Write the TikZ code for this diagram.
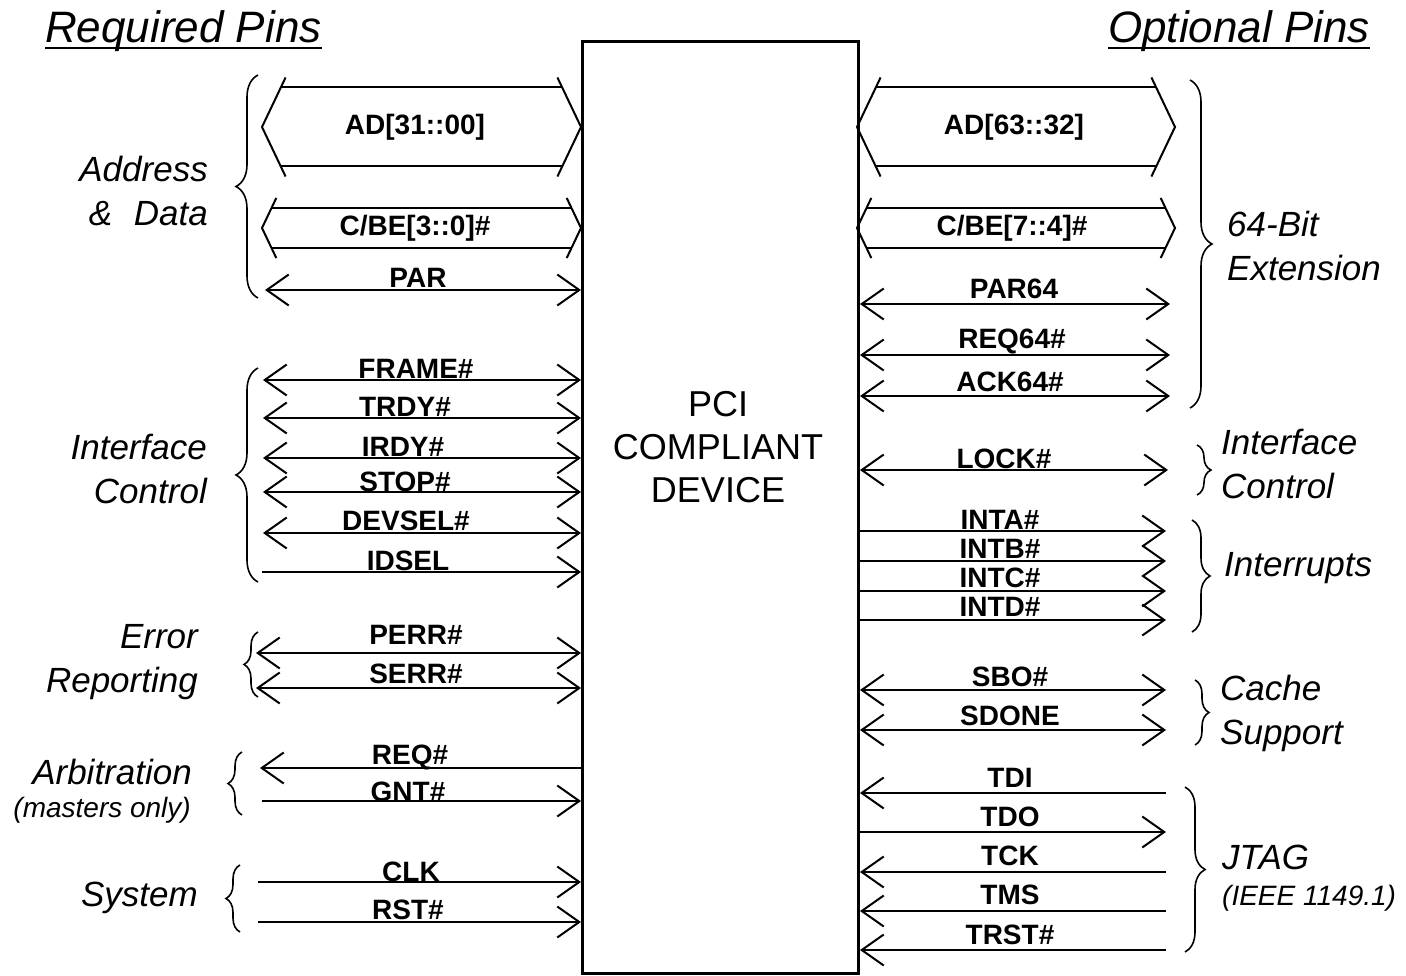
\documentclass[tikz,border=0pt]{standalone}
\usepackage{fontspec}
\setmainfont{Liberation Sans}
\usetikzlibrary{arrows.meta,decorations.pathreplacing,calc}
\newcommand\pcibusdraw[4]{% #1 left tip x, #2 right tip x, #3 centre y, #4 half height
  \pgfmathsetmacro\bdd{#4/2.1}%
  \pgfmathsetmacro\boo{(#4+10)/2.1}%
  \draw[busline] (#1+\boo,#3-#4-10) -- (#1,#3) -- (#1+\boo,#3+#4+10);
  \draw[busline] (#2-\boo,#3-#4-10) -- (#2,#3) -- (#2-\boo,#3+#4+10);
  \draw[busline] (#1+\bdd,#3-#4) -- (#2-\bdd,#3-#4);
  \draw[busline] (#1+\bdd,#3+#4) -- (#2-\bdd,#3+#4);
}
\begin{document}
\begin{tikzpicture}[x=1pt,y=-1pt,
  >={Straight Barb[length=22pt,width=31pt]},
  pin/.style={line width=2pt},
  busline/.style={line width=2pt},
  lab/.style={font=\fontsize{28}{30}\selectfont\bfseries, inner sep=0pt},
  grpL/.style={font=\fontsize{35}{44}\selectfont\itshape, align=right, inner sep=0pt, anchor=east},
  grpR/.style={font=\fontsize{35}{44}\selectfont\itshape, align=left, inner sep=0pt, anchor=west},
  small/.style={font=\fontsize{28}{30}\selectfont\itshape, inner sep=0pt},
  brc/.style={decorate, decoration={brace, amplitude=#1}, line width=1.6pt},
  title/.style={font=\fontsize{44}{44}\selectfont\itshape, inner sep=0pt, anchor=base west}
]
\fill[white] (0,0) rectangle (1406,976);

% device box
\node[draw, line width=3pt, minimum width=276pt, minimum height=932pt, anchor=north west, inner sep=0pt] (dev) at (581,40) {};
\node[font=\fontsize{36}{43}\selectfont, align=center, inner sep=0pt] (devtxt) at (718,447) {PCI\\COMPLIANT\\DEVICE};

% titles
\node[title] (reqt) at (45,43) {Required Pins};
\draw[line width=1.5pt] ([yshift=-5pt]reqt.base west) -- ([yshift=-5pt]reqt.base east);
\node[title] (optt) at (1108,43) {Optional Pins};
\draw[line width=1.5pt] ([yshift=-5pt]optt.base west) -- ([yshift=-5pt]optt.base east);

% ---------- left side ----------
\pcibusdraw{262}{581}{127}{39.5}
\node[lab] (adlo) at (415,127) {AD[31::00]};
\pcibusdraw{262}{581}{228}{20}
\node[lab] (cbelo) at (415,228) {C/BE[3::0]\#};

\coordinate (parL) at (265,290);
\draw[pin,<->] (parL) -- (parL -| dev.west);
\node[lab] (parT) at (418,278) {PAR};

\coordinate (frameL) at (263,380);
\draw[pin,<->] (frameL) -- (frameL -| dev.west);
\node[lab] (frameT) at (416,369) {FRAME\#};

\coordinate (trdyL) at (263,418);
\draw[pin,<->] (trdyL) -- (trdyL -| dev.west);
\node[lab] (trdyT) at (405,407) {TRDY\#};

\coordinate (irdyL) at (263,458);
\draw[pin,<->] (irdyL) -- (irdyL -| dev.west);
\node[lab] (irdyT) at (403,447) {IRDY\#};

\coordinate (stopL) at (263,492);
\draw[pin,<->] (stopL) -- (stopL -| dev.west);
\node[lab] (stopT) at (405,482) {STOP\#};

\coordinate (devselL) at (263,533);
\draw[pin,<->] (devselL) -- (devselL -| dev.west);
\node[lab] (devselT) at (406,521) {DEVSEL\#};

\coordinate (idselL) at (262,572);
\draw[pin,->] (idselL) -- (idselL -| dev.west);
\node[lab] (idselT) at (408,561) {IDSEL};

\coordinate (perrL) at (256,653);
\draw[pin,<->] (perrL) -- (perrL -| dev.west);
\node[lab] (perrT) at (416,635) {PERR\#};

\coordinate (serrL) at (256,688);
\draw[pin,<->] (serrL) -- (serrL -| dev.west);
\node[lab] (serrT) at (416,674) {SERR\#};

\coordinate (reqL) at (260,768);
\draw[pin,<-] (reqL) -- (reqL -| dev.west);
\node[lab] (reqT) at (410,757) {REQ\#};

\coordinate (gntL) at (262,801);
\draw[pin,->] (gntL) -- (gntL -| dev.west);
\node[lab] (gntT) at (408,792) {GNT\#};

\coordinate (clkL) at (258,882);
\draw[pin,->] (clkL) -- (clkL -| dev.west);
\node[lab] (clkT) at (411,872) {CLK};

\coordinate (rstL) at (258,922);
\draw[pin,->] (rstL) -- (rstL -| dev.west);
\node[lab] (rstT) at (408,910) {RST\#};

% left braces and group labels
\draw[brc=22] (258,298) -- (258,75);
\node[grpL] (gAD) at (208,191) {Address\\\&\hspace{12pt} Data};
\draw[brc=22] (258,582) -- (258,368);
\node[grpL] (gIC) at (207,469) {Interface\\Control};
\draw[brc=14] (258,697) -- (258,632);
\node[grpL] (gER) at (198,662) {Error\\Reporting};
\draw[brc=14] (242,815) -- (242,752);
\node[grpL] (gARB) at (192,772) {Arbitration};
\node[small, anchor=east] (gMAS) at (191,810) {(masters only)};
\draw[brc=14] (240,932) -- (240,865);
\node[grpL] (gSYS) at (198,898) {System};

% ---------- right side ----------
\pcibusdraw{857}{1175}{127}{39.5}
\node[lab] (adhi) at (1014,127) {AD[63::32]};
\pcibusdraw{857}{1175}{228}{20}
\node[lab] (cbehi) at (1012,228) {C/BE[7::4]\#};

\coordinate (par64R) at (1170,304);
\draw[pin,<->] (par64R -| dev.east) -- (par64R);
\node[lab] (par64T) at (1014,289) {PAR64};

\coordinate (req64R) at (1170,355);
\draw[pin,<->] (req64R -| dev.east) -- (req64R);
\node[lab] (req64T) at (1012,341) {REQ64\#};

\coordinate (ack64R) at (1170,396);
\draw[pin,<->] (ack64R -| dev.east) -- (ack64R);
\node[lab] (ack64T) at (1010,382) {ACK64\#};

\coordinate (lockR) at (1168,470);
\draw[pin,<->] (lockR -| dev.east) -- (lockR);
\node[lab] (lockT) at (1004,459) {LOCK\#};

\coordinate (intaR) at (1166,531);
\draw[pin,->] (intaR -| dev.east) -- (intaR);
\node[lab] (intaT) at (1000,520) {INTA\#};

\coordinate (intbR) at (1166,561);
\draw[pin,->] (intbR -| dev.east) -- (intbR);
\node[lab] (intbT) at (1000,549) {INTB\#};

\coordinate (intcR) at (1166,591);
\draw[pin,->] (intcR -| dev.east) -- (intcR);
\node[lab] (intcT) at (1000,578) {INTC\#};

\coordinate (intdR) at (1166,620);
\draw[pin,->] (intdR -| dev.east) -- (intdR);
\node[lab] (intdT) at (1000,607) {INTD\#};

\coordinate (sboR) at (1166,690);
\draw[pin,<->] (sboR -| dev.east) -- (sboR);
\node[lab] (sboT) at (1010,677) {SBO\#};

\coordinate (sdoneR) at (1166,730);
\draw[pin,<->] (sdoneR -| dev.east) -- (sdoneR);
\node[lab] (sdoneT) at (1010,716) {SDONE};

\coordinate (tdiR) at (1166,793);
\draw[pin,<-] (tdiR -| dev.east) -- (tdiR);
\node[lab] (tdiT) at (1010,778) {TDI};

\coordinate (tdoR) at (1166,832);
\draw[pin,->] (tdoR -| dev.east) -- (tdoR);
\node[lab] (tdoT) at (1010,817) {TDO};

\coordinate (tckR) at (1166,872);
\draw[pin,<-] (tckR -| dev.east) -- (tckR);
\node[lab] (tckT) at (1010,856) {TCK};

\coordinate (tmsR) at (1166,911);
\draw[pin,<-] (tmsR -| dev.east) -- (tmsR);
\node[lab] (tmsT) at (1010,895) {TMS};

\coordinate (trstR) at (1166,950);
\draw[pin,<-] (trstR -| dev.east) -- (trstR);
\node[lab] (trstT) at (1010,935) {TRST\#};

% right braces and group labels
\draw[brc=22] (1190,80) -- (1190,408);
\node[grpR] (g64) at (1227,246) {64-Bit\\Extension};
\draw[brc=14] (1197,445) -- (1197,495);
\node[grpR] (gICR) at (1221,464) {Interface\\Control};
\draw[brc=18] (1192,520) -- (1192,632);
\node[grpR] (gINT) at (1224,568) {Interrupts};
\draw[brc=14] (1195,680) -- (1195,745);
\node[grpR] (gCS) at (1220,713) {Cache\\Support};
\draw[brc=20] (1185,787) -- (1185,952);
\node[grpR] (gJT) at (1222,857) {JTAG};
\node[small, anchor=west] (gIEEE) at (1222,898) {(IEEE 1149.1)};
\end{tikzpicture}
\end{document}
